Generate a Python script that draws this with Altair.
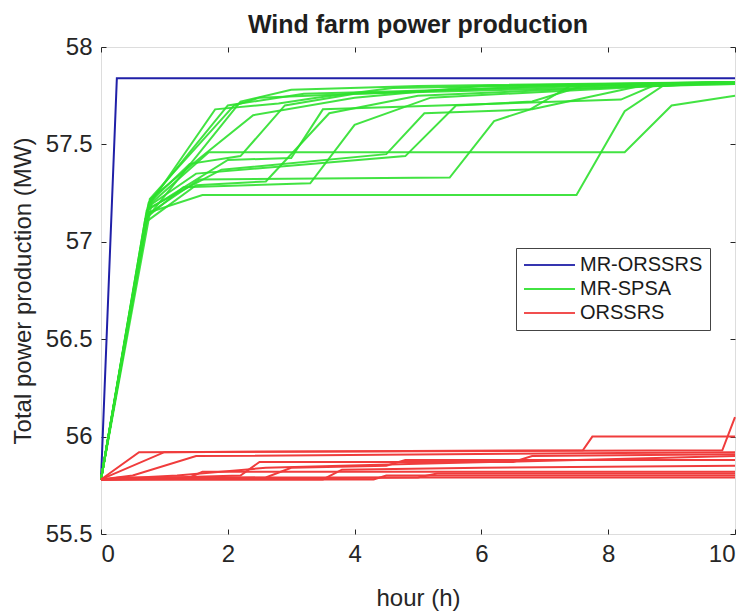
import altair as alt
import pandas as pd

# ---------------- data ----------------
series_names = ["MR-ORSSRS", "MR-SPSA", "ORSSRS"]
series_colors = ["#2020a8", "#2ee02e", "#f03c3c"]

blue_x = [0, 0.25, 10]
blue_y = [55.78, 57.84, 57.84]

green_runs = [
    ([0, 0.72, 2.2, 3.0, 5.0, 10], [55.78, 57.12, 57.72, 57.78, 57.80, 57.82]),
    ([0, 0.75, 2.0, 3.2, 10], [55.78, 57.20, 57.70, 57.76, 57.82]),
    ([0, 0.78, 1.6, 2.4, 4.0, 6.0, 10], [55.78, 57.22, 57.44, 57.65, 57.74, 57.80, 57.82]),
    ([0, 0.70, 1.5, 2.6, 3.6, 5.0, 10], [55.78, 57.10, 57.29, 57.31, 57.66, 57.75, 57.82]),
    ([0, 0.75, 1.6, 7.5, 8.26, 8.86, 10], [55.78, 57.15, 57.24, 57.24, 57.67, 57.80, 57.82]),
    ([0, 0.80, 1.7, 8.26, 9.0, 10], [55.78, 57.20, 57.46, 57.46, 57.70, 57.75]),
    ([0, 0.74, 1.5, 4.8, 5.6, 6.8, 7.6, 10], [55.78, 57.18, 57.35, 57.44, 57.70, 57.72, 57.80, 57.82]),
    ([0, 0.72, 2.0, 3.0, 3.5, 8.2, 8.7, 10], [55.78, 57.16, 57.42, 57.43, 57.68, 57.73, 57.80, 57.82]),
    ([0, 0.76, 1.4, 2.2, 2.9, 4.0, 10], [55.78, 57.20, 57.40, 57.44, 57.70, 57.76, 57.81]),
    ([0, 0.70, 1.3, 3.3, 4.0, 5.2, 10], [55.78, 57.12, 57.28, 57.30, 57.60, 57.74, 57.82]),
    ([0, 0.77, 2.1, 2.5, 7.0, 10], [55.78, 57.22, 57.70, 57.74, 57.80, 57.81]),
    ([0, 0.74, 1.9, 4.5, 5.1, 6.8, 8.5, 10], [55.78, 57.17, 57.37, 57.45, 57.66, 57.68, 57.80, 57.82]),
    ([0, 0.73, 1.55, 5.5, 6.2, 6.77, 7.4, 10], [55.78, 57.14, 57.32, 57.33, 57.62, 57.68, 57.80, 57.82]),
    ([0, 0.76, 1.8, 2.8, 3.4, 4.6, 10], [55.78, 57.19, 57.68, 57.71, 57.74, 57.79, 57.82]),
]

red_runs = [
    ([0, 0.6, 7.6, 7.75, 10], [55.78, 55.92, 55.93, 56.00, 56.00]),
    ([0, 1.0, 9.8, 10], [55.78, 55.92, 55.93, 56.10]),
    ([0, 0.5, 1.5, 10], [55.78, 55.80, 55.90, 55.92]),
    ([0, 1.2, 2.6, 5.0, 10], [55.78, 55.80, 55.84, 55.86, 55.90]),
    ([0, 2.6, 3.0, 4.5, 4.8, 10], [55.78, 55.79, 55.84, 55.85, 55.88, 55.88]),
    ([0, 3.5, 3.8, 6.0, 10], [55.78, 55.78, 55.83, 55.84, 55.85]),
    ([0, 1.4, 1.6, 10], [55.78, 55.79, 55.82, 55.82]),
    ([0, 5.0, 5.3, 10], [55.78, 55.79, 55.81, 55.81]),
    ([0, 4.3, 4.5, 10], [55.78, 55.78, 55.80, 55.80]),
    ([0, 0.3, 10], [55.78, 55.79, 55.79]),
    ([0, 2.2, 2.5, 6.5, 6.8, 10], [55.78, 55.80, 55.87, 55.87, 55.90, 55.91]),
]

x_ticks = [0, 2, 4, 6, 8, 10]
y_ticks = [55.5, 56, 56.5, 57, 57.5, 58]

# ---------------- table ----------------
rows = []
for i, (xs, ys) in enumerate([(blue_x, blue_y)]):
    for k, (a, b) in enumerate(zip(xs, ys)):
        rows.append({"series": series_names[0], "run": f"b{i}", "k": k, "x": a, "y": b})
for i, (xs, ys) in enumerate(green_runs):
    for k, (a, b) in enumerate(zip(xs, ys)):
        rows.append({"series": series_names[1], "run": f"g{i}", "k": k, "x": a, "y": b})
for i, (xs, ys) in enumerate(red_runs):
    for k, (a, b) in enumerate(zip(xs, ys)):
        rows.append({"series": series_names[2], "run": f"r{i}", "k": k, "x": a, "y": b})
df = pd.DataFrame(rows)

FONT = "Liberation Sans"
xscale = alt.Scale(domain=[0, 10], nice=False, zero=False)
yscale = alt.Scale(domain=[55.5, 58], nice=False, zero=False)
color = alt.Color(
    "series:N",
    scale=alt.Scale(domain=series_names, range=series_colors),
    legend=alt.Legend(
        title=None, orient="none", legendX=415, legendY=201,
        symbolType="stroke", symbolSize=2600, symbolStrokeWidth=2,
        clipHeight=20,
        labelFontSize=20, labelFont=FONT, labelColor="#1a1a1a",
        labelOffset=4, rowPadding=4, padding=7,
        strokeColor="#444444", fillColor="#ffffff",
    ),
)

base_axis = dict(
    labelFont=FONT, titleFont=FONT, labelFontSize=24, titleFontSize=24,
    labelColor="#262626", titleColor="#262626", titleFontWeight="normal",
    domain=False, grid=False, tickColor="#262626", tickSize=5, offset=-5,
)

blue = alt.Chart(df[df.series == series_names[0]]).mark_line(strokeWidth=2).encode(
    x=alt.X("x:Q", scale=xscale, axis=alt.Axis(values=x_ticks, title="hour (h)", labelPadding=8,
                                               titlePadding=20, orient="bottom", **base_axis)),
    y=alt.Y("y:Q", scale=yscale, axis=alt.Axis(values=y_ticks, format="~g", title="Total power production (MW)",
                                               labelPadding=9, titlePadding=10, orient="left", **base_axis)),
    color=color, detail="run:N", order="k:Q",
)

green = alt.Chart(df[df.series == series_names[1]]).mark_line(strokeWidth=2, opacity=0.9).encode(
    x=alt.X("x:Q", scale=xscale, axis=None),
    y=alt.Y("y:Q", scale=yscale, axis=None),
    color=color, detail="run:N", order="k:Q",
)

red = alt.Chart(df[df.series == series_names[2]]).mark_line(strokeWidth=2).encode(
    x=alt.X("x:Q", scale=xscale, axis=alt.Axis(values=x_ticks, labels=False, title=None, orient="top", **base_axis)),
    y=alt.Y("y:Q", scale=yscale, axis=alt.Axis(values=y_ticks, labels=False, title=None, orient="right", **base_axis)),
    color=color, detail="run:N", order="k:Q",
)

chart = (
    alt.layer(blue, green, red)
    .resolve_axis(x="independent", y="independent")
    .properties(
        width=634, height=487,
        autosize=alt.AutoSizeParams(type="none"),
        padding={"left": 101, "top": 47, "right": 14, "bottom": 81},
        title=alt.TitleParams("Wind farm power production", font=FONT, fontSize=25,
                              fontWeight="bold", color="#1e1e1e", anchor="middle", offset=-3),
    )
    .configure_view(stroke="#262626", strokeWidth=1)
    .configure(background="white")
)

chart.save("out.html", embed_options={"renderer": "svg", "actions": False})
